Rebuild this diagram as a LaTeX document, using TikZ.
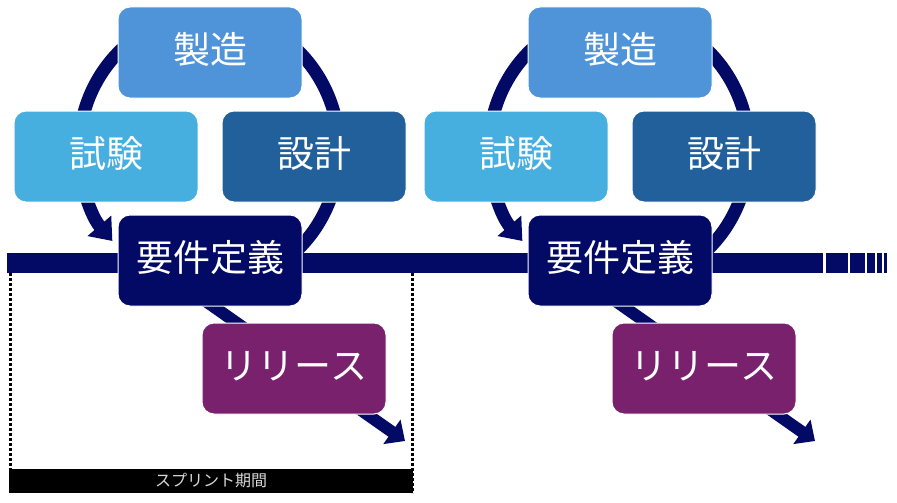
\documentclass[tikz,border=0pt]{standalone}
\usepackage{fontspec}
\setmainfont{Noto Sans CJK JP}
\usetikzlibrary{arrows.meta}

\definecolor{navy}{HTML}{020A66}
\definecolor{mfgblue}{HTML}{4F94D9}
\definecolor{testblue}{HTML}{47AEE0}
\definecolor{designblue}{HTML}{22609C}
\definecolor{plum}{HTML}{7A216D}

\tikzset{
  phase/.style={rounded corners=12pt, draw=white, line width=1pt, text=white,
    minimum width=184pt, minimum height=91pt, inner sep=0pt,
    text height=28pt, text depth=6pt,
    font=\fontsize{37}{40}\selectfont},
  ring/.style={draw=navy, line width=13pt, -{Triangle[width=30pt,length=20pt]}},
  flow/.style={draw=navy, line width=12pt, -{Triangle[width=29pt,length=16pt]}},
}

\begin{document}
\begin{tikzpicture}[x=1pt,y=-1pt]
\useasboundingbox (0,0) rectangle (897,503);
% time line
\fill[navy] (7,253) rectangle (823,273);
\foreach \a/\b in {826/848,850/865,867/875,877/882,884/887}
  \fill[navy] (\a,253) rectangle (\b,273);
% two sprints
\foreach \dx/\c in {0/a,410/b}{
\begin{scope}[xshift=\dx pt]
\draw[ring] (209,150) ++(60:130 and 136) arc[start angle=60,end angle=-222,x radius=130,y radius=136];
\node[phase,fill=mfgblue] (mfg\c) at (210,52.5) {製造};
\node[phase,fill=testblue] (test\c) at (106,156.5) {試験};
\node[phase,fill=designblue] (design\c) at (314,156.5) {設計};
\coordinate (from\c) at ([xshift=-60pt]210,262);
\coordinate (to\c) at (405,441);
\draw[flow] (from\c) -- (to\c);
\node[phase,fill=navy] (req\c) at (210,260.5) {要件定義};
\node[phase,fill=plum] (rel\c) at (294,368.5) {リリース};
\end{scope}
}
% sprint span
\draw[line width=3pt, dash pattern=on 3pt off 2pt] (10.5,273) -- (10.5,469) (412,273) -- (412,493);
\node[fill=black, text=white!85!black, minimum width=404pt, minimum height=24pt, inner sep=0pt,
  font=\fontsize{16}{18}\selectfont] (sprint) at (211,481) {スプリント期間};
\end{tikzpicture}
\end{document}
